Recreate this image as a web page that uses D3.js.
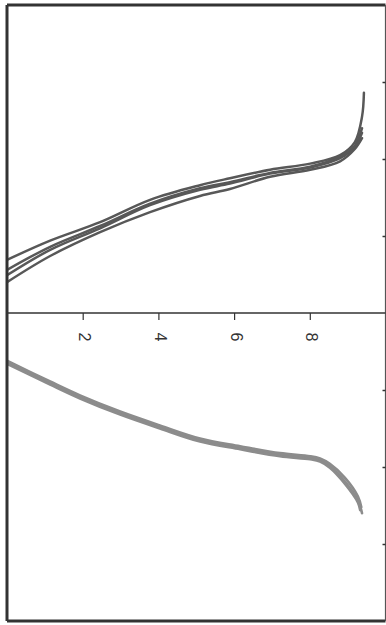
<!DOCTYPE html>
<html>
<head>
<meta charset="utf-8">
<script src="https://cdn.jsdelivr.net/npm/d3@7"></script>
<style>
body { margin: 0; background: #fff; }
</style>
</head>
<body>
<div id="chart-area"></div>
<script>

let width = 386,
height = 625;

// shared axis (runs left to right across the middle line)
let axisTicks = [2, 4, 6, 8];
let panelTicks = [1, 2, 3];

// upper panel: four curves, h = value on the shared axis, v = position down the panel
let upperH = [
	[0, 1.14, 2.46, 3.78, 5.10, 5.89, 6.95, 8.01, 8.80, 9.19, 9.38, 9.43],
	[0, 1.14, 2.46, 3.78, 5.10, 5.89, 6.95, 8.01, 8.80, 9.19, 9.38],
	[0, 1.14, 2.46, 3.78, 5.10, 5.89, 6.95, 8.01, 8.80, 9.19, 9.38],
	[0, 1.14, 2.46, 3.78, 5.10, 5.89, 6.95, 8.01, 8.80, 9.19, 9.38]
];
let upperV = [
	[3.31, 3.06, 2.82, 2.53, 2.34, 2.25, 2.14, 2.06, 1.95, 1.78, 1.45, 1.14],
	[3.51, 3.18, 2.90, 2.60, 2.40, 2.32, 2.19, 2.11, 1.99, 1.83, 1.60],
	[3.60, 3.26, 2.95, 2.69, 2.48, 2.39, 2.23, 2.14, 2.03, 1.87, 1.73],
	[3.44, 3.14, 2.87, 2.58, 2.38, 2.30, 2.18, 2.10, 1.97, 1.84, 1.66]
];

// lower panel: three nearly overlapping curves
let lowerH = [
	[0, 1.14, 1.93, 2.99, 4.04, 5.10, 6.16, 7.21, 8.01, 8.27, 8.53, 8.93, 9.27, 9.38],
	[0, 1.14, 1.93, 2.99, 4.04, 5.10, 6.16, 7.21, 8.01, 8.27, 8.53, 8.93, 9.27, 9.36],
	[0, 1.14, 1.93, 2.99, 4.04, 5.10, 6.16, 7.21, 8.01, 8.27, 8.53, 8.93, 9.27, 9.33]
];
let lowerV = [
	[0.64, 0.91, 1.09, 1.30, 1.48, 1.65, 1.75, 1.84, 1.88, 1.91, 1.99, 2.19, 2.43, 2.60],
	[0.62, 0.89, 1.07, 1.28, 1.46, 1.63, 1.73, 1.82, 1.86, 1.89, 1.96, 2.14, 2.38, 2.52],
	[0.66, 0.93, 1.11, 1.32, 1.50, 1.67, 1.77, 1.86, 1.90, 1.93, 2.01, 2.22, 2.46, 2.56]
];

let svg = d3.select("#chart-area").append("svg")
	.attr("width", width)
	.attr("height", height);

svg.append("rect")
	.attr("width", width)
	.attr("height", height)
	.attr("fill", "#fff");

let fLeft = 7, fRight = 385.5, fTop = 5, fMid = 313, fBottom = 621;

let x = d3.scaleLinear()
	.domain([0, 10])
	.range([fLeft, fRight]);

let yUpper = d3.scaleLinear()
	.domain([0, 4])
	.range([fTop, fMid]);

let yLower = d3.scaleLinear()
	.domain([0, 4])
	.range([fMid, fBottom]);

// clip curves to the frame
svg.append("clipPath").attr("id", "clip-upper")
	.append("rect").attr("x", fLeft).attr("y", fTop).attr("width", fRight - fLeft).attr("height", fMid - fTop);
svg.append("clipPath").attr("id", "clip-lower")
	.append("rect").attr("x", fLeft).attr("y", fMid).attr("width", fRight - fLeft).attr("height", fBottom - fMid);

function drawCurves(hs, vs, yScale, clip, color, w) {
	let line = d3.line()
		.x(d => x(d[0]))
		.y(d => yScale(d[1]))
		.curve(d3.curveCatmullRom.alpha(0.5));

	let rows = hs.map((h, i) => h.map((hv, j) => [hv, vs[i][j]]));

	svg.append("g")
		.attr("clip-path", "url(#" + clip + ")")
		.selectAll("path")
		.data(rows)
		.enter().append("path")
		.attr("d", line)
		.attr("fill", "none")
		.attr("stroke", color)
		.attr("stroke-width", w)
		.attr("stroke-linecap", "round");
}

drawCurves(upperH, upperV, yUpper, "clip-upper", "#585858", 2.5);
drawCurves(lowerH, lowerV, yLower, "clip-lower", "#8c8c8c", 2.6);

// frame
svg.append("line").attr("x1", fLeft).attr("x2", fLeft).attr("y1", fTop).attr("y2", fBottom)
	.attr("stroke", "#333").attr("stroke-width", 3);
svg.append("line").attr("x1", fLeft).attr("x2", fRight).attr("y1", fTop).attr("y2", fTop)
	.attr("stroke", "#333").attr("stroke-width", 3);
svg.append("line").attr("x1", fLeft).attr("x2", fRight).attr("y1", fBottom).attr("y2", fBottom)
	.attr("stroke", "#333").attr("stroke-width", 3);
svg.append("line").attr("x1", fRight).attr("x2", fRight).attr("y1", fTop).attr("y2", fBottom)
	.attr("stroke", "#555").attr("stroke-width", 1.2);

// shared axis along the middle
let axisG = svg.append("g")
	.attr("transform", "translate(0," + fMid + ")")
	.call(d3.axisBottom(x).tickValues(axisTicks).tickSize(7).tickFormat(""));
axisG.select(".domain").remove();
axisG.selectAll("line").attr("stroke", "#333").attr("stroke-width", 1.2);

svg.append("line").attr("x1", fLeft).attr("x2", fRight).attr("y1", fMid).attr("y2", fMid)
	.attr("stroke", "#333").attr("stroke-width", 1.6);

svg.selectAll(".ax-label")
	.data(axisTicks)
	.enter().append("text")
	.attr("class", "ax-label")
	.attr("transform", d => "translate(" + (x(d) + 2) + "," + 337 + ") rotate(90)")
	.attr("text-anchor", "middle")
	.attr("dominant-baseline", "central")
	.style("font-family", "Liberation Sans, Arial, sans-serif")
	.style("font-size", "16px")
	.attr("fill", "#333")
	.text(d => d);

// small ticks on the right edge of each panel
let rightUpper = svg.append("g")
	.attr("transform", "translate(" + fRight + ",0)")
	.call(d3.axisLeft(yUpper).tickValues(panelTicks).tickSize(3).tickFormat(""));
let rightLower = svg.append("g")
	.attr("transform", "translate(" + fRight + ",0)")
	.call(d3.axisLeft(yLower).tickValues(panelTicks).tickSize(3).tickFormat(""));
[rightUpper, rightLower].forEach(g => {
	g.select(".domain").remove();
	g.selectAll("line").attr("stroke", "#333").attr("stroke-width", 1.5);
});

</script>
</body>
</html>
